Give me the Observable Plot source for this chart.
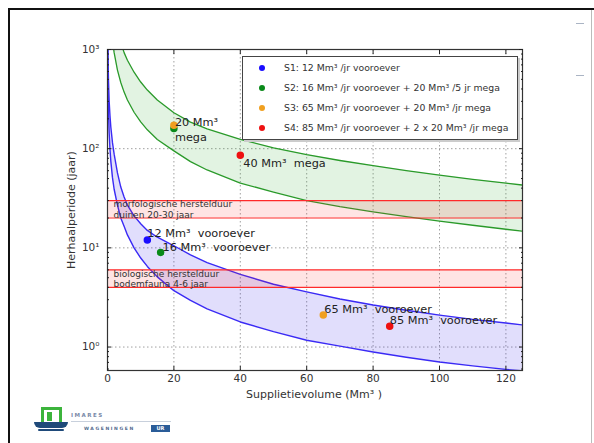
<!DOCTYPE html>
<html>
<head>
<meta charset="utf-8">
<script src="https://cdn.jsdelivr.net/npm/d3@7"></script>
<script src="https://cdn.jsdelivr.net/npm/@observablehq/plot@0.6"></script>
<style>
  html, body { margin: 0; padding: 0; background: #fff; }
  #wrap { position: relative; width: 594px; height: 443px; overflow: hidden; font-family: "DejaVu Sans", sans-serif; }
  #wrap svg { position: absolute; left: 0; top: 0; }
  .abs { position: absolute; white-space: nowrap; }
</style>
</head>
<body>
<div id="wrap"></div>
<script>
// ---------------- data ----------------
const xTicks = [0, 20, 40, 60, 80, 100, 120];
const yTicks = [1, 10, 100, 1000];
const yTickLabels = ["10\u2070", "10\u00b9", "10\u00b2", "10\u00b3"];
const yMinorTicks = [0.6, 0.7, 0.8, 0.9, 2, 3, 4, 5, 6, 7, 8, 9, 20, 30, 40, 50, 60, 70, 80, 90, 200, 300, 400, 500, 600, 700, 800, 900];

// S1-band (blue): sampled volume and return period of both bounds
const blueX     = [0.07, 0.2, 0.3, 0.5, 0.75, 1, 1.5, 2, 3, 4, 5, 6, 8, 10, 12, 15, 20, 25, 30, 40, 50, 60, 70, 80, 90, 100, 110, 120, 125];
const blueUpper = [2000, 700, 480, 300, 215, 165, 115, 88, 57, 41, 32.5, 27, 21, 17.5, 15, 12.8, 10.5, 8.5, 7.1, 5.4, 4.3, 3.6, 3.05, 2.65, 2.35, 2.1, 1.9, 1.75, 1.67];
const blueLower = [1000, 360, 240, 144, 98, 75, 51, 39, 27, 20, 16.5, 13.5, 10, 7.9, 6.5, 5.1, 3.7, 2.95, 2.42, 1.79, 1.43, 1.17, 1.02, 0.89, 0.79, 0.706, 0.645, 0.595, 0.575];

// S2-band (green)
const greenX     = [1.5, 2, 3, 4, 5, 6, 8, 10, 12, 15, 20, 25, 30, 40, 50, 60, 70, 80, 90, 100, 110, 120, 125];
const greenUpper = [3000, 2400, 1600, 1180, 930, 780, 590, 470, 390, 310, 230, 185, 158, 124, 102, 87, 76, 67.5, 60, 54, 49, 45, 43];
const greenLower = [1250, 930, 620, 465, 372, 310, 233, 186, 155, 124, 95, 74, 61, 45, 36.5, 30, 26, 23, 20.6, 18.6, 16.9, 15.4, 14.7];

// recovery-time bands
const bandLow  = [20, 4];
const bandHigh = [30, 6];
const bandText = ["morfologische herstelduur\nduinen 20-30 jaar", "biologische herstelduur\nbodemfauna 4-6 jaar"];

// scenario points
const pointX = [12, 16, 20, 20, 40, 65, 85];
const pointY = [12, 9, 160, 172, 86, 2.1, 1.62];
const pointScenario = ["S1", "S2", "S2", "S3", "S4", "S3", "S4"];
const annText = ["12 Mm\u00b3  vooroever", "16 Mm\u00b3  vooroever", "20 Mm\u00b3\nmega", "40 Mm\u00b3  mega", "65 Mm\u00b3  vooroever", "85 Mm\u00b3  vooroever"];

const legendKeys = ["S1", "S2", "S3", "S4"];
const legendLabels = [
  "S1: 12 Mm\u00b3 /jr vooroever",
  "S2: 16 Mm\u00b3 /jr vooroever + 20 Mm\u00b3 /5 jr mega",
  "S3: 65 Mm\u00b3 /jr vooroever + 20 Mm\u00b3 /jr mega",
  "S4: 85 Mm\u00b3 /jr vooroever + 2 x 20 Mm\u00b3 /jr mega"
];
const scenarioColors = {S1: "#1a0dff", S2: "#0a8a1a", S3: "#f0a020", S4: "#ee1111"};

// ---------------- tables ----------------
const blue = blueX.map((x, i) => ({x, hi: blueUpper[i], lo: blueLower[i]}));
const green = greenX.map((x, i) => ({x, hi: greenUpper[i], lo: greenLower[i]}));
const bands = bandLow.map((lo, i) => ({lo, hi: bandHigh[i], mid: Math.sqrt(lo * bandHigh[i]), text: bandText[i]}));
const points = pointX.map((x, i) => ({x, y: pointY[i], s: pointScenario[i]}));
const ann = (i, j) => [{x: pointX[i], y: pointY[i], t: annText[j]}];

const fontFam = "DejaVu Sans, sans-serif";

const plot = Plot.plot({
  width: 594,
  height: 443,
  marginLeft: 107,
  marginRight: 72,
  marginTop: 49,
  marginBottom: 73,
  style: {fontFamily: fontFam, fontSize: "10px", color: "#222", background: "transparent"},
  x: {domain: [0, 125]},
  y: {type: "log", domain: [0.58, 1000]},
  marks: [
    Plot.gridX(xTicks.slice(1), {stroke: "#777", strokeOpacity: 0.7, strokeDasharray: "1.5,2.5"}),
    Plot.gridY(yTicks, {stroke: "#777", strokeOpacity: 0.7, strokeDasharray: "1.5,2.5"}),
    // bands of scenario curves
    Plot.areaY(blue, {x: "x", y1: "lo", y2: "hi", fill: "#3322ee", fillOpacity: 0.15, clip: true}),
    Plot.areaY(green, {x: "x", y1: "lo", y2: "hi", fill: "#22a022", fillOpacity: 0.13, clip: true}),
    Plot.line(blue, {x: "x", y: "hi", stroke: "#3a2af5", strokeWidth: 1.4, clip: true}),
    Plot.line(blue, {x: "x", y: "lo", stroke: "#3a2af5", strokeWidth: 1.4, clip: true}),
    Plot.line(green, {x: "x", y: "hi", stroke: "#2a9a2a", strokeWidth: 1.3, clip: true}),
    Plot.line(green, {x: "x", y: "lo", stroke: "#2a9a2a", strokeWidth: 1.3, clip: true}),
    // recovery-time bands
    Plot.rect(bands, {y1: "lo", y2: "hi", fill: "#ff2020", fillOpacity: 0.12}),
    Plot.ruleY(bands, {y: "lo", stroke: "#ff2a2a", strokeWidth: 1.2}),
    Plot.ruleY(bands, {y: "hi", stroke: "#ff2a2a", strokeWidth: 1.2}),
    Plot.text(bands, {x: 1.8, y: "mid", text: "text", textAnchor: "start", fontSize: 9, lineHeight: 1.15, fill: "#333", letterSpacing: "0.2px"}),
    // points
    Plot.dot(points, {x: "x", y: "y", r: 3, fill: d => scenarioColors[d.s], stroke: d => scenarioColors[d.s]}),
    // annotations
    Plot.text(ann(0, 0), {x: "x", y: "y", text: "t", textAnchor: "start", dx: 0, dy: -7, fontSize: 11.3, fill: "#222"}),
    Plot.text(ann(1, 1), {x: "x", y: "y", text: "t", textAnchor: "start", dx: 2, dy: -5, fontSize: 11.3, fill: "#222"}),
    Plot.text(ann(3, 2), {x: "x", y: "y", text: "t", textAnchor: "start", dx: 1, dy: 3, lineHeight: 1.35, fontSize: 11.3, fill: "#222"}),
    Plot.text(ann(4, 3), {x: "x", y: "y", text: "t", textAnchor: "start", dx: 3, dy: 8, fontSize: 11.3, fill: "#222"}),
    Plot.text(ann(5, 4), {x: "x", y: "y", text: "t", textAnchor: "start", dx: 1, dy: -6, fontSize: 11.3, fill: "#222"}),
    Plot.text(ann(6, 5), {x: "x", y: "y", text: "t", textAnchor: "start", dx: 0, dy: -6, fontSize: 11.3, fill: "#222"}),
    // axes (matplotlib style: inward ticks on all four sides)
    Plot.frame({stroke: "#333", strokeWidth: 1.2}),
    Plot.axisX({anchor: "bottom", ticks: xTicks, tickSize: -4, tickPadding: 8, label: null, fontSize: 10.5, fill: "#333"}),
    Plot.axisX({anchor: "top", ticks: xTicks, tickSize: -4, tickFormat: () => "", label: null}),
    Plot.axisY({anchor: "left", ticks: yTicks, tickSize: -4, tickPadding: 12, tickFormat: d => yTickLabels[yTicks.indexOf(d)], label: null, fontSize: 10.5, fill: "#333"}),
    Plot.axisY({anchor: "left", ticks: yMinorTicks, tickSize: -2, tickFormat: () => "", label: null}),
    Plot.axisY({anchor: "right", ticks: yTicks, tickSize: -4, tickFormat: () => "", label: null}),
    Plot.axisY({anchor: "right", ticks: yMinorTicks, tickSize: -2, tickFormat: () => "", label: null})
  ]
});

const wrap = document.getElementById("wrap");
wrap.appendChild(plot);

function addDiv(css, html, parent) {
  const d = document.createElement("div");
  d.className = "abs";
  d.style.cssText = css;
  if (html != null) d.textContent = html;
  (parent || wrap).appendChild(d);
  return d;
}

// slide frame
addDiv("left:8px;top:8px;width:600px;height:2px;background:#111;");
addDiv("left:8px;top:8px;width:2px;height:440px;background:#111;");
addDiv("left:591px;top:10px;width:1px;height:433px;background:#bbb;");
addDiv("left:576px;top:23px;width:8px;height:1px;background:#aab4c4;");
addDiv("left:576px;top:75px;width:8px;height:1px;background:#aab4c4;");

// axis labels
addDiv("left:314px;top:388px;transform:translateX(-50%);font-size:11px;color:#333;", "Supplietievolume (Mm\u00b3 )");
addDiv("left:71px;top:210px;transform:translate(-50%,-50%) rotate(-90deg);font-size:11px;color:#333;", "Herhaalperiode (jaar)");

// legend
const leg = addDiv("left:242px;top:56px;width:274px;height:82px;border:1.5px solid #444;background:#fff;box-shadow:2px 2px 0 #ccc;");
legendKeys.forEach((k, i) => {
  const y = 11 + i * 20;
  addDiv(`left:16px;top:${y - 3}px;width:6px;height:6px;border-radius:50%;background:${scenarioColors[k]};`, null, leg);
  addDiv(`left:41px;top:${y - 6}px;font-size:9.3px;line-height:12px;color:#333;`, legendLabels[i], leg);
});

// logo (IMARES Wageningen UR)
addDiv("left:41px;top:407px;width:15px;height:13px;border:3px solid #3cb43c;border-bottom:none;background:#fff;");
addDiv("left:47px;top:412px;width:5px;height:9px;background:#3cb43c;");
addDiv("left:34px;top:422px;width:34px;height:6px;background:#1f4a7a;border-radius:0 0 10px 10px;");
addDiv("left:38px;top:429px;width:26px;height:2px;background:#1f4a7a;border-radius:2px;");
addDiv("left:71px;top:412px;font-size:5.5px;letter-spacing:1.5px;color:#7a8aa8;font-weight:bold;", "IMARES");
addDiv("left:71px;top:421px;width:100px;height:1px;background:#c8d0dc;");
addDiv("left:84px;top:426px;font-size:4.5px;letter-spacing:1.6px;color:#52698c;font-weight:bold;", "WAGENINGEN");
addDiv("left:151px;top:425px;width:19px;height:7px;background:#2a5c98;color:#fff;font-size:5px;line-height:7px;text-align:center;font-weight:bold;", "UR");
</script>
</body>
</html>
